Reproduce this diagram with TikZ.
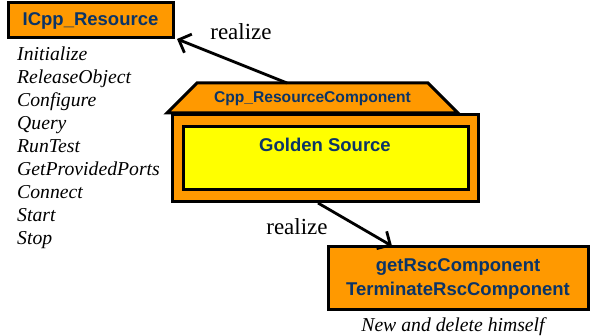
\documentclass[tikz,border=0pt]{standalone}
\usepackage{fontspec}
\setmainfont{Liberation Serif}
\setsansfont{Liberation Sans}
\usetikzlibrary{arrows.meta}
\definecolor{boxorange}{HTML}{FF9900}
\definecolor{boxyellow}{HTML}{FFFF00}
\definecolor{labelblue}{HTML}{0B3467}
\tikzset{
  umlbox/.style={draw=black, line width=3pt, fill=boxorange, inner sep=0pt},
  boxtext/.style={font=\sffamily\bfseries\fontsize{18.5}{24}\selectfont, text=labelblue},
  smalltext/.style={font=\sffamily\bfseries\fontsize{15.6}{18}\selectfont, text=labelblue},
  optext/.style={font=\itshape\fontsize{19.7}{23}\selectfont, anchor=base west, inner sep=0pt},
  reltext/.style={font=\fontsize{23}{26}\selectfont, inner sep=0pt},
  realizes/.style={line width=2.8pt, -{Straight Barb[length=10pt,width=20pt,line width=2.8pt]}}
}
\begin{document}
\begin{tikzpicture}[x=1pt,y=-1pt]
\useasboundingbox (0,0) rectangle (590,336);

% interface box and its operations
\node[umlbox, boxtext, minimum width=165pt, minimum height=35pt] (iface) at (90.5,20.5) {ICpp\_Resource};
\foreach \op [count=\i] in {Initialize,ReleaseObject,Configure,Query,RunTest,GetProvidedPorts,Connect,Start,Stop}
  \node[optext] (op\i) at (17,{61+23*(\i-1)}) {\op};

% component: roof with its name, body and inner part
\draw[line width=3pt, fill=boxorange, line join=miter] (197,83) -- (428,83) -- (458,113) -- (167,113) -- cycle;
\node[smalltext] (roof) at (312.5,99) {Cpp\_ResourceComponent};
\node[umlbox, minimum width=306pt, minimum height=87pt] (body) at (325,158.5) {};
\node[draw=black, line width=3pt, fill=boxyellow, minimum width=285pt, minimum height=63pt, inner sep=0pt] (golden) at (325.5,158.5) {};
\node[boxtext] (goldlabel) at (325,145) {Golden Source};

% factory box
\node[umlbox, boxtext, align=center, minimum width=260pt, minimum height=63pt] (impl) at (458,278.5) {getRscComponent\\TerminateRscComponent};
\node[font=\itshape\fontsize{19.7}{23}\selectfont, inner sep=0pt] (note) at (453,327) {New and delete himself};

% realization arrows
\coordinate (from1) at (287,83);
\coordinate (to1) at (177,39);
\draw[realizes] (from1) -- (to1);
\node[reltext] (real1) at (241,32) {realize};

\coordinate (from2) at (318,203);
\coordinate (to2) at (392,246);
\draw[realizes] (from2) -- (to2);
\node[reltext] (real2) at (297,227) {realize};
\end{tikzpicture}
\end{document}
